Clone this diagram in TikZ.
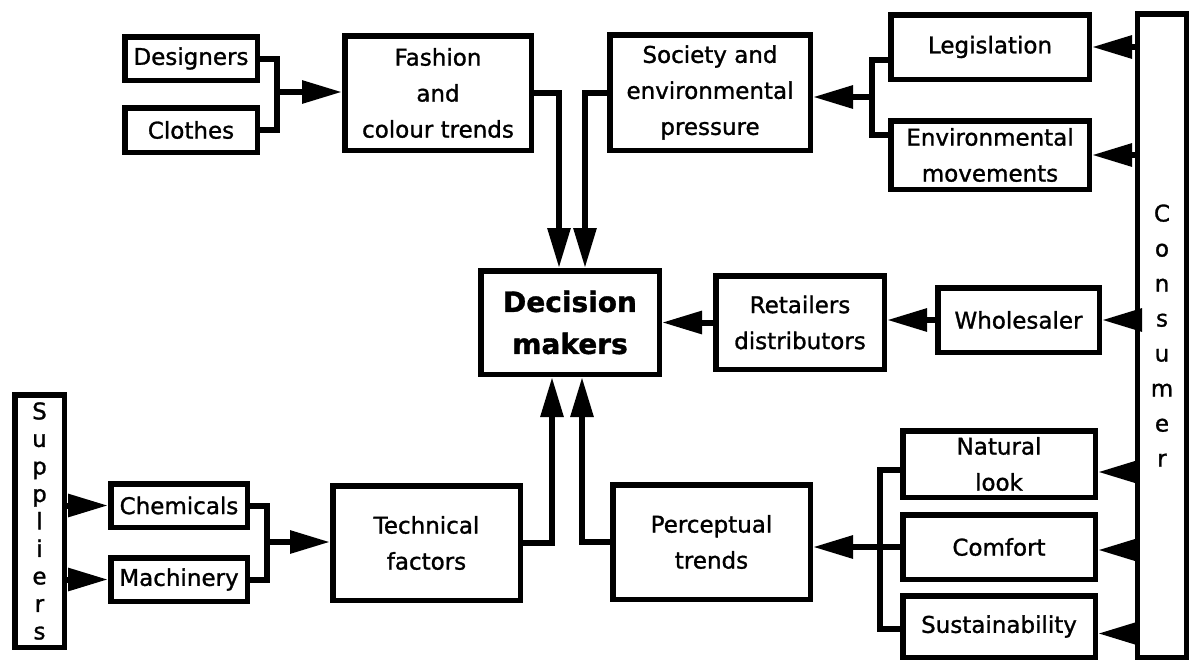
\documentclass[tikz,border=0pt]{standalone}
\usepackage{fontspec}
\setmainfont{DejaVu Sans}[FakeBold=1.2]
\usepackage{tikz}
\usetikzlibrary{arrows.meta,calc}

\begin{document}
\begin{tikzpicture}[
  x=1pt, y=-1pt,
  stage/.style={rectangle, draw, line width=5.5pt, fill=white, inner sep=0pt, align=center, anchor=center, font=\fontsize{23}{36}\selectfont},
  link/.style={line width=6pt},
  arrow/.style={line width=6pt, -{Triangle[length=40pt,width=22pt]}}
]
\useasboundingbox (0,0) rectangle (1189,662);
% top row
\node[stage, minimum width=132.5, minimum height=43.5] (designers) at (191,58.5) {Designers};
\node[stage, minimum width=132.5, minimum height=44.5] (clothes) at (191,130) {Clothes};
\node[stage, minimum width=186.5, minimum height=114.5] (fashion) at (438,93) {Fashion\\and\\colour trends};
\node[stage, minimum width=200.5, minimum height=115.5] (society) at (710,92.5) {Society and\\environmental\\pressure};
\node[stage, minimum width=198.5, minimum height=64.5] (legis) at (990,47) {Legislation};
\node[stage, minimum width=198.5, minimum height=68.5] (envmov) at (990,155) {Environmental\\movements};
% side columns
\node[stage, minimum width=49.5, minimum height=643.5, font=\fontsize{23}{35}\selectfont] (consumer) at (1162,335.5) {C\\o\\n\\s\\u\\m\\e\\r};
\node[stage, minimum width=49.5, minimum height=252.5, font=\fontsize{23}{27.5}\selectfont] (suppliers) at (39.5,521) {S\\u\\p\\p\\l\\i\\e\\r\\s};
% middle row
\node[stage, minimum width=178.5, minimum height=103.5, font=\fontsize{28}{42}\selectfont\bfseries] (decision) at (570,322.5) {Decision\\makers};
\node[stage, minimum width=168.5, minimum height=93.5] (retail) at (800,322.5) {Retailers\\distributors};
\node[stage, minimum width=161.5, minimum height=64.5] (whole) at (1018.5,320) {Wholesaler};
% bottom row
\node[stage, minimum width=136.5, minimum height=43.5] (chem) at (179,505.5) {Chemicals};
\node[stage, minimum width=136.5, minimum height=43.5] (mach) at (179,579.5) {Machinery};
\node[stage, minimum width=187.5, minimum height=114.5] (tech) at (426.5,543) {Technical\\factors};
\node[stage, minimum width=197.5, minimum height=114.5] (percept) at (711.5,542) {Perceptual\\trends};
\node[stage, minimum width=192.5, minimum height=66.5] (natural) at (999,464) {Natural\\look};
\node[stage, minimum width=192.5, minimum height=64.5] (comfort) at (999,547) {Comfort};
\node[stage, minimum width=192.5, minimum height=61.5] (sustain) at (999,626.5) {Sustainability};

% joints
\coordinate (jfash) at (277,92);
\coordinate (jsoc) at (872,97);
\coordinate (jtech) at (267,542);
\coordinate (jperc) at (880,547);

% into fashion and society
\draw[link] (designers.east) -| (jfash) |- (clothes.east);
\draw[arrow] (jfash) -- (jfash -| fashion.west);
\draw[link] ([yshift=-13pt]legis.west) -| (jsoc) |- ([yshift=20pt]envmov.west);
\draw[arrow] (jsoc) -- (jsoc -| society.east);

% down to decision makers
\draw[arrow] (fashion.east) -| ([xshift=-11pt]decision.north);
\draw[arrow] (society.west) -| ([xshift=15pt]decision.north);

% consumer side
\draw[arrow] (legis.east -| consumer.west) -- (legis.east);
\draw[arrow] (envmov.east -| consumer.west) -- (envmov.east);
\draw[arrow] (whole.east -| consumer.west) -- (whole.east);
\draw[arrow] ([yshift=-8pt]natural.east -| consumer.west) -- ([yshift=-8pt]natural.east);
\draw[arrow] ([yshift=-3pt]comfort.east -| consumer.west) -- ([yshift=-3pt]comfort.east);
\draw[arrow] ([yshift=-7pt]sustain.east -| consumer.west) -- ([yshift=-7pt]sustain.east);

% middle row
\draw[arrow] (whole.west) -- (whole.west -| retail.east);
\draw[arrow] (retail.west) -- (retail.west -| decision.east);

% perceptual trends
\draw[link] ([yshift=-6pt]natural.west) -| (jperc) |- ([yshift=-2pt]sustain.west);
\draw[arrow] (comfort.west) -- (comfort.west -| percept.east);
\draw[arrow] (percept.west) -| ([xshift=12pt]decision.south);

% suppliers and technical factors
\draw[arrow] (chem.west -| suppliers.east) -- (chem.west);
\draw[arrow] (mach.west -| suppliers.east) -- (mach.west);
\draw[link] (chem.east) -| (jtech) |- (mach.east);
\draw[arrow] (jtech) -- (jtech -| tech.west);
\draw[arrow] (tech.east) -| ([xshift=-18pt]decision.south);
\end{tikzpicture}
\end{document}
